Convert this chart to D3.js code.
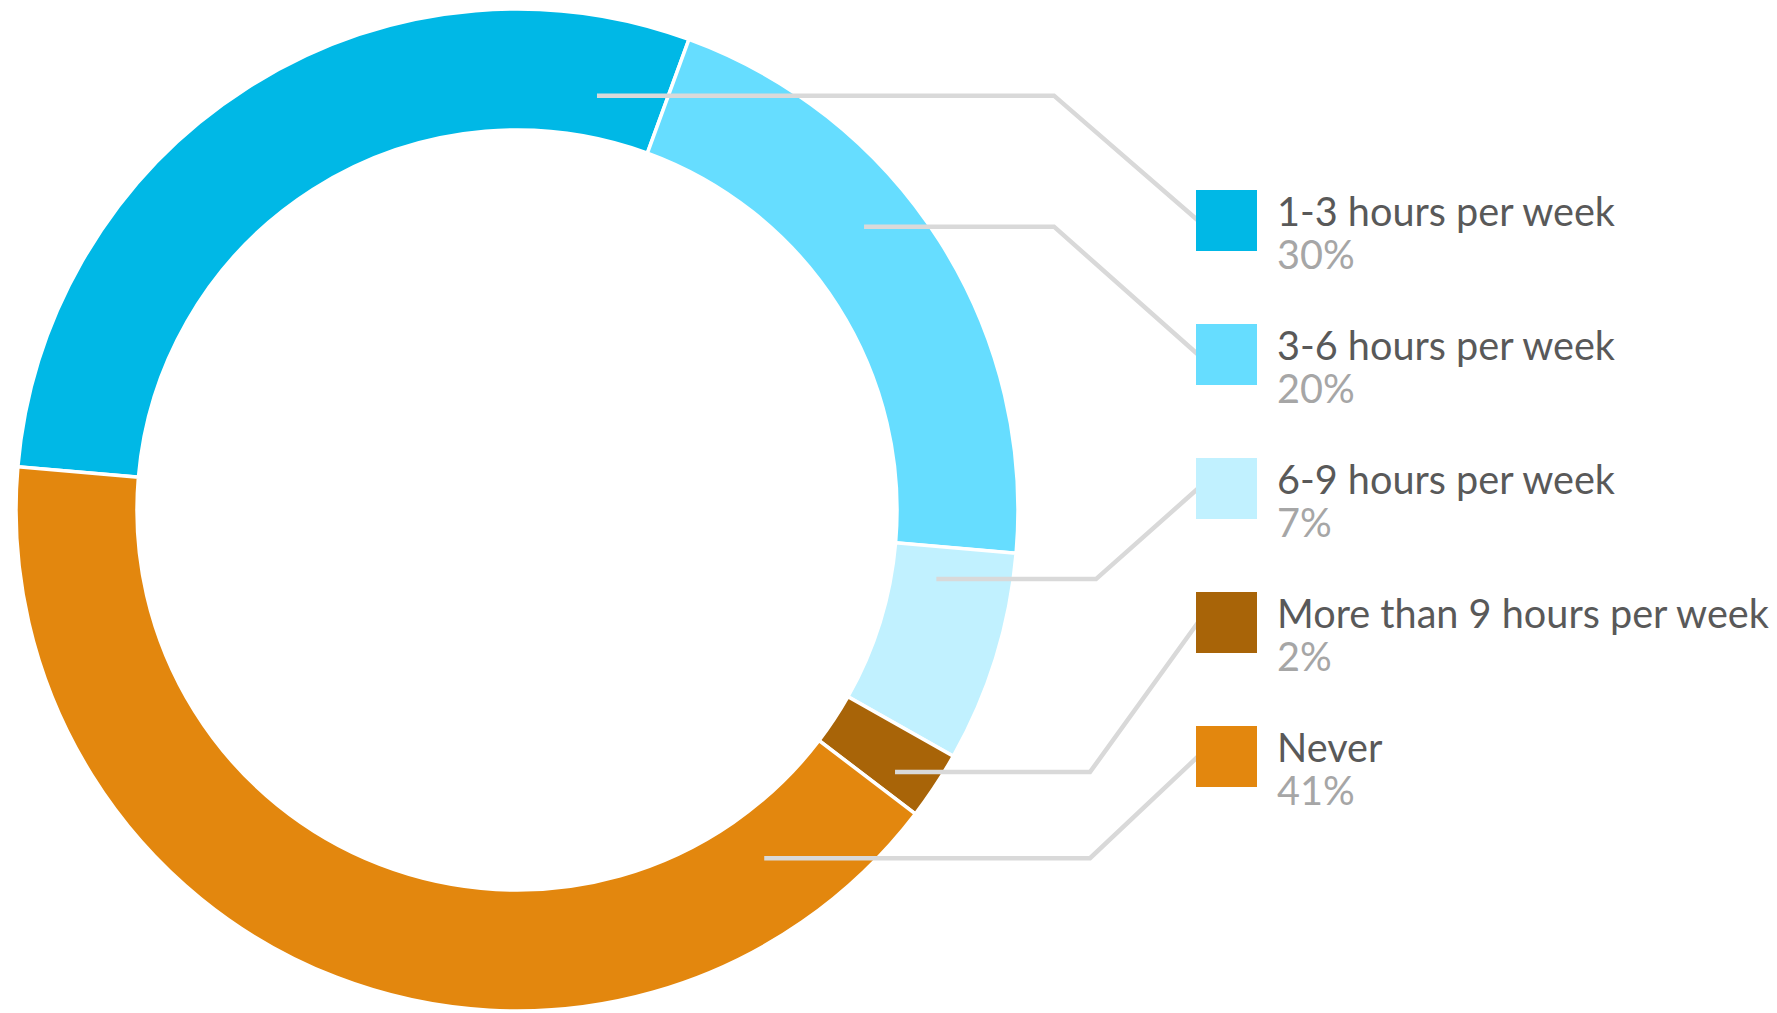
<!DOCTYPE html>
<html>
<head>
<meta charset="utf-8">
<script src="https://cdn.jsdelivr.net/npm/d3@7"></script>
<style>
  html, body { margin: 0; padding: 0; background: #fff; }
  svg { display: block; }
  text { font-family: "Lato", "Open Sans", sans-serif; }
</style>
</head>
<body>
<script>
// Chart data
var categories = ["1-3 hours per week", "3-6 hours per week", "6-9 hours per week", "More than 9 hours per week", "Never"];
var shares = [29.2, 20.8, 6.8, 2.2, 41.0];
var shareLabels = ["30%", "20%", "7%", "2%", "41%"];
var colors = ["#00B8E6", "#66DDFF", "#C1F1FF", "#A86408", "#E3870E"];

var svgWidth = 1777;
var svgHeight = 1013;

var cx = 517, cy = 510;
var outerR = 501, innerR = 380;

// where each leader line leaves its slice (fraction along slice, radius) and bends
var anchorFrac = [0.913, 0.41, 0.18, 0.67, 0.117];
var anchorR = [422, 448, 425, 460, 427];
var elbowX = [1054, 1054, 1096, 1090, 1090];

var svg = d3.select("body")
  .append("svg")
  .attr("width", svgWidth)
  .attr("height", svgHeight);

var rows = categories.map(function(c, i) {
  return { name: c, value: shares[i], label: shareLabels[i], color: colors[i], i: i };
});

var start = -85.05 * Math.PI / 180;
var pie = d3.pie()
  .sort(null)
  .value(function(d) { return d.value; })
  .startAngle(start)
  .endAngle(start + 2 * Math.PI);

var arc = d3.arc()
  .innerRadius(innerR)
  .outerRadius(outerR);

var arcs = pie(rows);

var donut = svg.append("g")
  .attr("transform", "translate(" + cx + "," + cy + ")");

donut.selectAll("path")
  .data(arcs)
  .enter()
  .append("path")
  .attr("d", arc)
  .attr("fill", function(d) { return d.data.color; })
  .attr("stroke", "#fff")
  .attr("stroke-width", 3.5)
  .attr("stroke-linejoin", "miter");

// Legend rows
var legendY = d3.scaleBand()
  .domain(categories)
  .range([190, 190 + 134 * categories.length]);

var boxX = 1196, boxSize = 61, textX = 1277;

// Leader lines from slices to legend boxes
var leader = d3.line();
svg.append("g")
  .selectAll("path")
  .data(arcs)
  .enter()
  .append("path")
  .attr("d", function(d, i) {
    var a = d.startAngle + anchorFrac[i] * (d.endAngle - d.startAngle);
    var x0 = cx + anchorR[i] * Math.sin(a);
    var y0 = cy - anchorR[i] * Math.cos(a);
    var yEnd = legendY(d.data.name) + boxSize / 2;
    return leader([[x0, y0], [elbowX[i], y0], [boxX + 2, yEnd]]);
  })
  .attr("fill", "none")
  .attr("stroke", "#D9D9D9")
  .attr("stroke-width", 4.5);

var legend = svg.append("g");

var item = legend.selectAll("g")
  .data(rows)
  .enter()
  .append("g")
  .attr("transform", function(d) { return "translate(0," + legendY(d.name) + ")"; });

item.append("rect")
  .attr("x", boxX)
  .attr("y", 0)
  .attr("width", boxSize)
  .attr("height", boxSize)
  .attr("fill", function(d) { return d.color; });

var names = item.append("text")
  .attr("x", textX)
  .attr("y", 36)
  .attr("fill", "#595959")
  .style("font-size", "40px")
  .text(function(d) { return d.name; });

var pcts = item.append("text")
  .attr("x", textX)
  .attr("y", 79)
  .attr("fill", "#A6A6A6")
  .style("font-size", "40px")
  .text(function(d) { return d.label; });

// fit the font so the longest label spans the same width as the original
var longest = d3.max(names.nodes(), function(n) { return n.getComputedTextLength(); });
var fs = 40 * 492 / longest;
names.style("font-size", fs + "px");
pcts.style("font-size", fs + "px");
</script>
</body>
</html>
